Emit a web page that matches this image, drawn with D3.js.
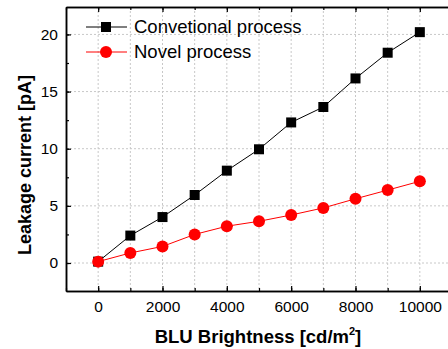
<!DOCTYPE html>
<html>
<head>
<meta charset="utf-8">
<script src="https://cdn.jsdelivr.net/npm/d3@7"></script>
<style>
  body { margin: 0; background: #fff; }
  svg { display: block; font-family: Arial, "Liberation Sans", sans-serif; }
</style>
</head>
<body>
<svg id="chart" width="448" height="349"></svg>
<script>
// data
const brightness = [0, 1000, 2000, 3000, 4000, 5000, 6000, 7000, 8000, 9000, 10000];
const conventional = [0.12, 2.4, 4.02, 5.95, 8.08, 9.95, 12.3, 13.65, 16.15, 18.4, 20.2];
const novel = [0.12, 0.88, 1.45, 2.5, 3.22, 3.65, 4.2, 4.82, 5.62, 6.38, 7.15];
const seriesNames = ["Convetional process", "Novel process"];
const xTicks = [0, 2000, 4000, 6000, 8000, 10000];
const yTicks = [0, 5, 10, 15, 20];

const margin = {top: 7, left: 66};
const plotW = 386, plotH = 284;

const svg = d3.select("#chart");
const g = svg.append("g").attr("transform", "translate(" + margin.left + "," + margin.top + ")");

const x = d3.scaleLinear().domain([-1000, 11000]).range([0, plotW]);
const y = d3.scaleLinear().domain([-2.45, 22.4]).range([plotH, 0]);

// grid
const gridX = d3.range(0, 10001, 1000);
g.append("g").selectAll("line").data(gridX).enter().append("line")
  .attr("x1", d => x(d)).attr("x2", d => x(d))
  .attr("y1", 0).attr("y2", plotH)
  .attr("stroke", "#c8c8c8").attr("stroke-width", 1).attr("stroke-dasharray", "2,2");
g.append("g").selectAll("line").data(yTicks).enter().append("line")
  .attr("x1", 0).attr("x2", plotW)
  .attr("y1", d => y(d)).attr("y2", d => y(d))
  .attr("stroke", "#c8c8c8").attr("stroke-width", 1).attr("stroke-dasharray", "2,2");

// axes (ticks inside)
const minorX = d3.range(-1000, 11001, 1000);
const minorY = d3.range(-2.5, 22.5, 2.5);

function styleAxis(sel) {
  sel.select(".domain").attr("stroke", "#000").attr("stroke-width", 1.5);
  sel.selectAll(".tick line").attr("stroke", "#000").attr("stroke-width", 1.2);
  sel.selectAll("text").attr("fill", "#000").attr("font-size", "15.5px");
}

// minor ticks first
g.append("g").attr("transform", "translate(0," + plotH + ")")
  .call(d3.axisBottom(x).tickValues(minorX).tickSize(-3).tickFormat("").tickSizeOuter(0))
  .call(styleAxis);
g.append("g").call(d3.axisTop(x).tickValues(minorX).tickSize(-3).tickFormat("").tickSizeOuter(0))
  .call(styleAxis);
g.append("g").call(d3.axisLeft(y).tickValues(minorY.filter(v => v >= -2.45)).tickSize(-3).tickFormat("").tickSizeOuter(0))
  .call(styleAxis);

g.append("g").attr("transform", "translate(0," + plotH + ")")
  .call(d3.axisBottom(x).tickValues(xTicks).tickSize(-5).tickPadding(10).tickFormat(d3.format("d")).tickSizeOuter(0))
  .call(styleAxis);
g.append("g").call(d3.axisTop(x).tickValues(xTicks).tickSize(-5).tickFormat("").tickSizeOuter(0))
  .call(styleAxis);
g.append("g").call(d3.axisLeft(y).tickValues(yTicks).tickSize(-5).tickPadding(8).tickSizeOuter(0))
  .call(styleAxis);

// lines
const pts1 = brightness.map((b, i) => [b, conventional[i]]);
const pts2 = brightness.map((b, i) => [b, novel[i]]);
const line = d3.line().x(d => x(d[0])).y(d => y(d[1]));

g.append("path").datum(pts1).attr("d", line)
  .attr("fill", "none").attr("stroke", "#000").attr("stroke-width", 1);
g.append("path").datum(pts2).attr("d", line)
  .attr("fill", "none").attr("stroke", "#ff0000").attr("stroke-width", 1);

const sq = 10;
g.append("g").selectAll("rect").data(pts1).enter().append("rect")
  .attr("x", d => x(d[0]) - sq / 2).attr("y", d => y(d[1]) - sq / 2)
  .attr("width", sq).attr("height", sq).attr("fill", "#000");
g.append("g").selectAll("circle").data(pts2).enter().append("circle")
  .attr("cx", d => x(d[0])).attr("cy", d => y(d[1])).attr("r", 6)
  .attr("fill", "#ff0000");

// legend
const legend = svg.append("g");
const legY = [27, 52];
legend.append("line").attr("x1", 86).attr("x2", 127).attr("y1", legY[0]).attr("y2", legY[0])
  .attr("stroke", "#000").attr("stroke-width", 1);
legend.append("rect").attr("x", 106 - sq / 2).attr("y", legY[0] - sq / 2)
  .attr("width", sq).attr("height", sq).attr("fill", "#000");
legend.append("line").attr("x1", 86).attr("x2", 127).attr("y1", legY[1]).attr("y2", legY[1])
  .attr("stroke", "#ff0000").attr("stroke-width", 1);
legend.append("circle").attr("cx", 106).attr("cy", legY[1]).attr("r", 6).attr("fill", "#ff0000");
legend.selectAll("text").data(seriesNames).enter().append("text")
  .attr("x", 134).attr("y", (d, i) => legY[i] + 6)
  .attr("font-size", "18.5px").attr("fill", "#000")
  .text(d => d);

// axis titles
svg.append("text")
  .attr("transform", "translate(31," + 165 + ") rotate(-90)")
  .attr("text-anchor", "middle").attr("font-size", "18px").attr("font-weight", "bold")
  .text("Leakage current [pA]");

const xt = svg.append("text")
  .attr("x", 258).attr("y", 343)
  .attr("text-anchor", "middle").attr("font-size", "18.5px").attr("font-weight", "bold");
xt.append("tspan").text("BLU Brightness [cd/m");
xt.append("tspan").attr("dy", -8).attr("font-size", "11px").text("2");
xt.append("tspan").attr("dy", 8).text("]");
</script>
</body>
</html>
